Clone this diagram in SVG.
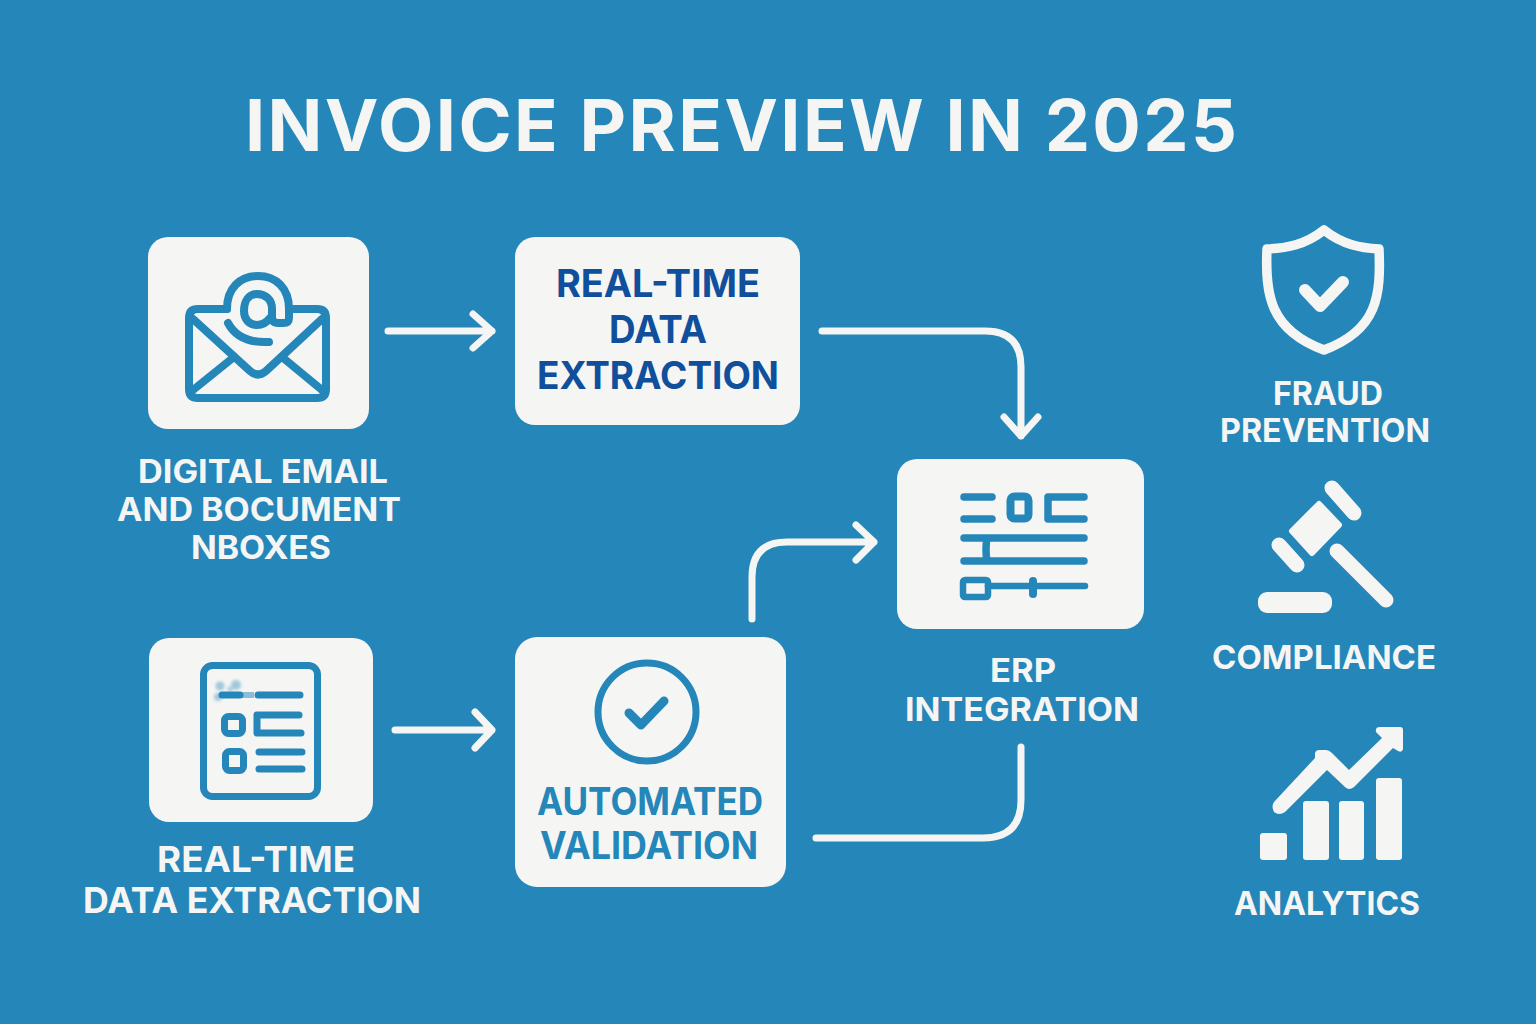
<svg xmlns="http://www.w3.org/2000/svg" width="1536" height="1024" viewBox="0 0 1536 1024">
<defs>
<style>
.card{fill:#f5f5f3}
.t{font-family:"Inter","Noto Sans","Liberation Sans",sans-serif;font-weight:700;text-anchor:middle;fill:#f5f5f3}
.b{fill:#0f4f9c}
.a{fill:#2486b9}
.ln{fill:none;stroke:#f5f5f3;stroke-width:7;stroke-linecap:round;stroke-linejoin:round}
.ic{fill:none;stroke:#2486b9;stroke-linecap:round;stroke-linejoin:round}
.w{fill:#f5f5f3}
.wl{fill:none;stroke:#f5f5f3;stroke-linecap:round}
</style>
<filter id="blur" x="-50%" y="-50%" width="200%" height="200%"><feGaussianBlur stdDeviation="1.6"/></filter>
</defs>
<rect width="1536" height="1024" fill="#2486b9"/>
<text class="t" x="741" y="151" font-size="72" textLength="992" lengthAdjust="spacing">INVOICE PREVIEW IN 2025</text>

<g id="connectors" class="ln">
<path d="M388 331H492M473 314L492 331L473 348"/>
<path d="M822 331H985Q1021 331 1021 367V436M1004 417L1021 436L1038 417"/>
<path d="M395 730H492M475 712L492 730L475 748"/>
<path d="M752 619V577Q752 542 787 542H874M856 525L874 542L856 560"/>
<path d="M1021 747V800Q1021 838 983 838H816"/>
</g>

<g id="node-email">
<rect class="card" x="148" y="237" width="221" height="192" rx="20"/>
<g class="ic" stroke-width="8">
<path d="M227 309H198Q189 309 189 318V389Q189 398 198 398H317Q326 398 326 389V318Q326 309 317 309H289"/>
<path d="M227 309C227 288 240 276 258 276C276 276 289 288 289 309V318Q289 323 283 323H278Q272 323 272 316V309C272 299 265 294 257 294C248 294 244 302 244 311C244 319 249 325 257 325C263 325 267 322 270 318"/>
<path d="M228 323C236 338 250 343 269 342"/>
<path d="M193 319L250 371Q258 378 266 371L322 319"/>
<path d="M193 390L234 357M322 390L282 357"/>
</g>
</g>
<text class="t" x="263" y="483" font-size="32" textLength="250" lengthAdjust="spacingAndGlyphs">DIGITAL EMAIL</text>
<text class="t" x="259" y="521" font-size="32" textLength="284" lengthAdjust="spacingAndGlyphs">AND BOCUMENT</text>
<text class="t" x="261" y="559" font-size="32" textLength="140" lengthAdjust="spacingAndGlyphs">NBOXES</text>

<g id="node-extraction">
<rect class="card" x="515" y="237" width="285" height="188" rx="20"/>
<text class="t b" x="658" y="297" font-size="38" textLength="204" lengthAdjust="spacingAndGlyphs">REAL-TIME</text>
<text class="t b" x="658" y="343" font-size="38" textLength="98" lengthAdjust="spacingAndGlyphs">DATA</text>
<text class="t b" x="658" y="389" font-size="38" textLength="242" lengthAdjust="spacingAndGlyphs">EXTRACTION</text>
</g>

<g id="node-document">
<rect class="card" x="149" y="638" width="224" height="184" rx="20"/>
<g class="ic" stroke-width="7">
<rect x="203.5" y="665.5" width="114" height="131" rx="9"/>
<path d="M222 695H240M258 695H300"/>
<rect x="224.5" y="716.5" width="18" height="17" rx="4"/>
<path d="M299 715H257V733H301"/>
<rect x="225.5" y="751.5" width="18" height="19" rx="4"/>
<path d="M259 752H302M259 769H302"/>
</g>
<path d="M240 695H254" stroke="#2486b9" stroke-width="6" opacity=".5" fill="none"/>
<g fill="#2486b9" opacity=".4" filter="url(#blur)"><circle cx="220" cy="686" r="4.5"/><circle cx="236" cy="685" r="5"/><circle cx="218" cy="697" r="4"/><circle cx="230" cy="689" r="2.5"/></g>
</g>
<text class="t" x="256" y="872" font-size="36" textLength="198" lengthAdjust="spacingAndGlyphs">REAL-TIME</text>
<text class="t" x="252" y="913" font-size="36" textLength="338" lengthAdjust="spacingAndGlyphs">DATA EXTRACTION</text>

<g id="node-validation">
<rect class="card" x="515" y="637" width="271" height="250" rx="22"/>
<circle cx="647" cy="712" r="49" fill="none" stroke="#2486b9" stroke-width="7"/>
<path class="ic" stroke-width="9" d="M629 713L641 725L664 701"/>
<text class="t a" x="650" y="815" font-size="38" textLength="226" lengthAdjust="spacingAndGlyphs">AUTOMATED</text>
<text class="t a" x="649" y="859" font-size="38" textLength="218" lengthAdjust="spacingAndGlyphs">VALIDATION</text>
</g>

<g id="node-erp">
<rect class="card" x="897" y="459" width="247" height="170" rx="20"/>
<g class="ic" stroke-width="7.5">
<path d="M964 497H992M964 519H992"/>
<rect x="1010.5" y="496.5" width="18" height="22" rx="4" stroke-width="8"/>
<path d="M1084 497H1048V519H1084"/>
<path d="M964 538H1084M964 561H1084M987 538Q985 550 987 561"/>
<rect x="963" y="580" width="25" height="17" rx="2" stroke-width="6.5"/>
<path d="M988 586H1085" stroke-width="6.5"/>
<path d="M1033 581V594" stroke-width="8"/>
</g>
</g>
<text class="t" x="1023" y="682" font-size="33" textLength="66" lengthAdjust="spacingAndGlyphs">ERP</text>
<text class="t" x="1022" y="721" font-size="33" textLength="234" lengthAdjust="spacingAndGlyphs">INTEGRATION</text>

<g id="node-fraud">
<path fill="none" stroke="#f5f5f3" stroke-width="9.5" stroke-linejoin="round" d="M1324 230C1305 245 1287 248 1267 249C1265 295 1270 330 1324 350C1378 330 1381 295 1379 249C1361 248 1343 245 1324 230Z"/>
<path fill="none" stroke="#f5f5f3" stroke-width="12" stroke-linecap="round" stroke-linejoin="round" d="M1305 290L1320 306L1343 282"/>
<text class="t" x="1328" y="405" font-size="32" textLength="110" lengthAdjust="spacingAndGlyphs">FRAUD</text>
<text class="t" x="1325" y="442" font-size="32" textLength="210" lengthAdjust="spacingAndGlyphs">PREVENTION</text>
</g>

<g id="node-compliance">
<rect class="w" x="1258" y="592" width="74" height="21" rx="9"/>
<path class="w" stroke="#f5f5f3" stroke-width="6" stroke-linejoin="round" d="M1319 504L1339 525L1312 553L1292 531Z"/>
<g class="wl" stroke-width="15">
<path d="M1332 488L1354 513"/>
<path d="M1279 545L1297 565"/>
<path d="M1337 551L1386 600"/>
</g>
<text class="t" x="1324" y="669" font-size="33" textLength="224" lengthAdjust="spacingAndGlyphs">COMPLIANCE</text>
</g>

<g id="node-analytics">
<g class="w">
<rect x="1260" y="833" width="27" height="27" rx="3"/>
<rect x="1303" y="801" width="26" height="59" rx="3"/>
<rect x="1339" y="801" width="25" height="59" rx="3"/>
<rect x="1376" y="778" width="26" height="82" rx="3"/>
<path d="M1274 802L1315 758V753Q1316 750 1319 750H1326Q1329 750 1332 753L1349 770L1382 738L1376 732Q1375 727 1380 727H1400Q1403 727 1403 730V749Q1402 753 1398 751L1393 748L1354 787Q1349 791 1345 787L1327 770L1285 812Q1279 816 1274 812Q1271 806 1274 802Z"/>
</g>
<text class="t" x="1327" y="915" font-size="33" textLength="186" lengthAdjust="spacingAndGlyphs">ANALYTICS</text>
</g>
</svg>
